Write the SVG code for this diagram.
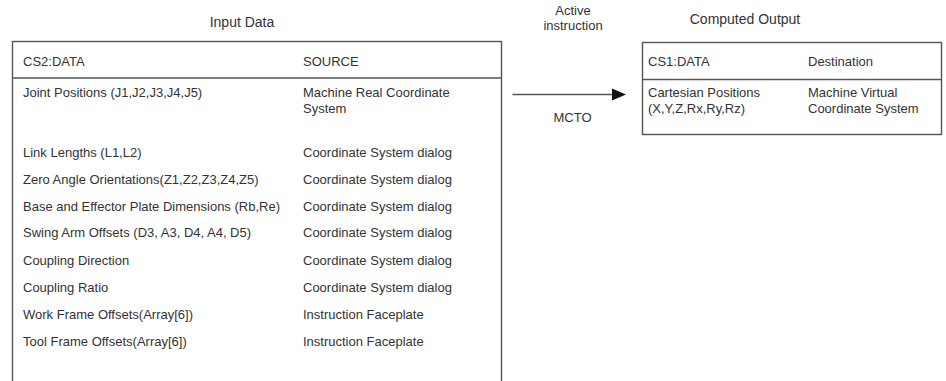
<svg xmlns="http://www.w3.org/2000/svg" width="946" height="381" viewBox="0 0 946 381">
<defs>
<style>
.t{font-family:"Liberation Sans",Arial,sans-serif;font-size:13px;fill:#333}
.h{font-family:"Liberation Sans",Arial,sans-serif;font-size:14px;fill:#333}
.box{fill:none;stroke:#555;stroke-width:1.4}
.ln{stroke:#555;stroke-width:1.4}
</style>
</defs>
<rect width="946" height="381" fill="#fff"/>
<g id="input">
<text class="h" x="242" y="27" text-anchor="middle">Input Data</text>
<rect class="box" x="12.5" y="41.5" width="489" height="360"/>
<line class="ln" x1="12.5" y1="78" x2="501.5" y2="78"/>
<text class="t" x="23" y="66">CS2:DATA</text>
<text class="t" x="303" y="66">SOURCE</text>
<text class="t" x="23" y="96.5">Joint Positions (J1,J2,J3,J4,J5)</text>
<text class="t" x="303" y="96.5">Machine Real Coordinate</text>
<text class="t" x="303" y="112.5">System</text>
<text class="t" x="23" y="157">Link Lengths (L1,L2)</text>
<text class="t" x="303" y="157">Coordinate System dialog</text>
<text class="t" x="23" y="183.5">Zero Angle Orientations(Z1,Z2,Z3,Z4,Z5)</text>
<text class="t" x="303" y="183.5">Coordinate System dialog</text>
<text class="t" x="23" y="210.5">Base and Effector Plate Dimensions (Rb,Re)</text>
<text class="t" x="303" y="210.5">Coordinate System dialog</text>
<text class="t" x="23" y="237">Swing Arm Offsets (D3, A3, D4, A4, D5)</text>
<text class="t" x="303" y="237">Coordinate System dialog</text>
<text class="t" x="23" y="265">Coupling Direction</text>
<text class="t" x="303" y="265">Coordinate System dialog</text>
<text class="t" x="23" y="292">Coupling Ratio</text>
<text class="t" x="303" y="292">Coordinate System dialog</text>
<text class="t" x="23" y="319">Work Frame Offsets(Array[6])</text>
<text class="t" x="303" y="319">Instruction Faceplate</text>
<text class="t" x="23" y="345.5">Tool Frame Offsets(Array[6])</text>
<text class="t" x="303" y="345.5">Instruction Faceplate</text>
</g>
<g id="output">
<text class="h" x="745" y="24" text-anchor="middle">Computed Output</text>
<rect class="box" x="642.5" y="42.5" width="299" height="92"/>
<line class="ln" x1="642.5" y1="79.5" x2="941.5" y2="79.5"/>
<text class="t" x="648" y="65.5">CS1:DATA</text>
<text class="t" x="808" y="65.5">Destination</text>
<text class="t" x="648" y="97">Cartesian Positions</text>
<text class="t" x="648" y="113">(X,Y,Z,Rx,Ry,Rz)</text>
<text class="t" x="808" y="97">Machine Virtual</text>
<text class="t" x="808" y="113">Coordinate System</text>
</g>
<g id="connectors">
<path d="M512.5,94.5 H614" stroke="#555" stroke-width="1.4" fill="none"/>
<path d="M612,88.5 L626,94.5 L612,100.5 Z" fill="#111"/>
<text class="t" x="573" y="15" text-anchor="middle">Active</text>
<text class="t" x="573" y="30" text-anchor="middle">instruction</text>
<text class="t" x="572.5" y="121.5" text-anchor="middle">MCTO</text>
</g>
</svg>
